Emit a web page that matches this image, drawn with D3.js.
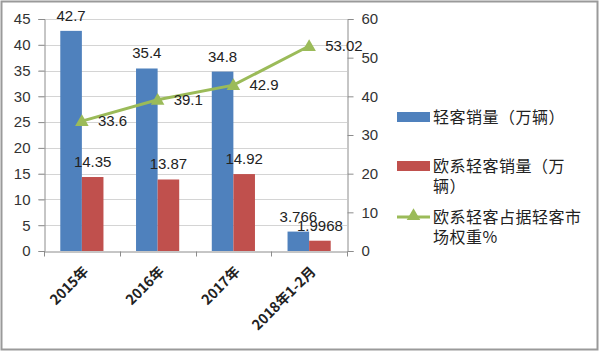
<!DOCTYPE html>
<html><head><meta charset="utf-8">
<script src="https://cdn.jsdelivr.net/npm/d3@7"></script>
<style>
html,body{margin:0;padding:0;background:#fff;}
svg{display:block;}
</style></head>
<body>
<svg id="chart" width="600" height="352"></svg>
<script>
const categories = ["2015年", "2016年", "2017年", "2018年1-2月"];
const totalSales = [42.7, 35.4, 34.8, 3.766];
const euroSales = [14.35, 13.87, 14.92, 1.9968];
const euroShare = [33.6, 39.1, 42.9, 53.02];
const totalLabels = ["42.7", "35.4", "34.8", "3.766"];
const euroLabels = ["14.35", "13.87", "14.92", "1.9968"];
const shareLabels = ["33.6", "39.1", "42.9", "53.02"];
const leftTicks = [0, 5, 10, 15, 20, 25, 30, 35, 40, 45];
const rightTicks = [0, 10, 20, 30, 40, 50, 60];
const seriesNames = ["轻客销量（万辆）", "欧系轻客销量（万辆）", "欧系轻客占据轻客市场权重%"];

const colors = {blue: "#4F81BD", red: "#C0504D", green: "#9BBB59"};
const svg = d3.select("#chart");
const W = 600, H = 352;
const plot = {left: 44, right: 347, top: 19, bottom: 251};
const numFont = "'Liberation Sans', Arial, sans-serif";
const cjkFont = "'Noto Sans CJK SC', sans-serif";

// border
svg.append("rect").attr("x", 1.5).attr("y", 1.5).attr("width", W - 4).attr("height", H - 4)
  .attr("fill", "#fff").attr("stroke", "#9a9a9a").attr("stroke-width", 2);

const x = d3.scaleBand().domain(categories).range([plot.left, plot.right]).paddingInner(0.43).paddingOuter(0.215);
const xs = d3.scaleBand().domain([0, 1]).range([0, x.bandwidth()]);
const xc = d => x(d) + x.bandwidth() / 2;
const yL = d3.scaleLinear().domain([0, 45]).range([plot.bottom, plot.top]);
const yR = d3.scaleLinear().domain([0, 60]).range([plot.bottom, plot.top]);

// gridlines
svg.append("g").selectAll("line").data(leftTicks.filter(t => t > 0)).join("line")
  .attr("x1", plot.left - 6).attr("x2", plot.right)
  .attr("y1", d => Math.round(yL(d)) + 0.5).attr("y2", d => Math.round(yL(d)) + 0.5)
  .attr("stroke", "#d4d4d4").attr("stroke-width", 1);

// left axis
const gL = svg.append("g").attr("transform", `translate(${plot.left + 0.5},0)`)
  .call(d3.axisLeft(yL).tickValues(leftTicks).tickSize(6).tickPadding(8));
// right axis
const gR = svg.append("g").attr("transform", `translate(${plot.right + 0.5},0)`)
  .call(d3.axisRight(yR).tickValues(rightTicks).tickSize(6).tickPadding(8));
[gL, gR].forEach(g => {
  g.select(".domain").attr("stroke", "#8c8c8c");
  g.selectAll(".tick line").attr("stroke", "#8c8c8c");
  g.selectAll(".tick text").attr("font-family", numFont).attr("font-size", 15).attr("fill", "#333");
});

// bars
const bars = svg.append("g");
bars.selectAll("rect.total").data(categories).join("rect").attr("class", "total")
  .attr("x", (d) => x(d) + xs(0)).attr("width", xs.bandwidth())
  .attr("y", (d, i) => yL(totalSales[i])).attr("height", (d, i) => yL(0) - yL(totalSales[i]))
  .attr("fill", colors.blue);
bars.selectAll("rect.euro").data(categories).join("rect").attr("class", "euro")
  .attr("x", (d) => x(d) + xs(1)).attr("width", xs.bandwidth())
  .attr("y", (d, i) => yL(euroSales[i])).attr("height", (d, i) => yL(0) - yL(euroSales[i]))
  .attr("fill", colors.red);

// x axis
const gX = svg.append("g").attr("transform", `translate(0,${plot.bottom + 0.5})`)
  .call(d3.axisBottom(x).tickSize(0).tickFormat(""));
gX.select(".domain").attr("stroke", "#8c8c8c");
const bounds = [plot.left, ...categories.map(d => x(d) - x.step() * x.paddingInner() / 2 + x.step()).slice(0, 3), plot.right];
gX.selectAll("line.sep").data(bounds).join("line").attr("class", "sep")
  .attr("x1", d => Math.round(d) + 0.5).attr("x2", d => Math.round(d) + 0.5)
  .attr("y1", 0).attr("y2", 5).attr("stroke", "#8c8c8c");
svg.append("g").selectAll("text").data(categories).join("text")
  .attr("transform", d => `translate(${xc(d) + 4},${plot.bottom + 18}) rotate(-45)`)
  .attr("text-anchor", "end").attr("dy", "0.35em")
  .attr("font-family", cjkFont).attr("font-size", 14).attr("font-weight", "bold").attr("fill", "#222")
  .text(d => d);

// line
const line = d3.line().x((d, i) => xc(categories[i])).y(d => yR(d));
svg.append("path").datum(euroShare).attr("d", line)
  .attr("fill", "none").attr("stroke", colors.green).attr("stroke-width", 3);
const tri = d3.symbol().type(d3.symbolTriangle).size(80);
svg.append("g").selectAll("path").data(euroShare).join("path")
  .attr("d", tri).attr("transform", (d, i) => `translate(${xc(categories[i])},${yR(d) + 1})`)
  .attr("fill", colors.green);

// data labels
const lab = svg.append("g").attr("font-family", numFont).attr("font-size", 15).attr("fill", "#222");
lab.selectAll("text.t").data(totalLabels).join("text").attr("class", "t")
  .attr("x", (d, i) => x(categories[i]) + xs(0) + xs.bandwidth() / 2)
  .attr("y", (d, i) => yL(totalSales[i]) - 10).attr("text-anchor", "middle").text(d => d);
lab.selectAll("text.e").data(euroLabels).join("text").attr("class", "e")
  .attr("x", (d, i) => x(categories[i]) + xs(1) + xs.bandwidth() / 2)
  .attr("y", (d, i) => yL(euroSales[i]) - 10).attr("text-anchor", "middle").text(d => d);
lab.selectAll("text.s").data(shareLabels).join("text").attr("class", "s")
  .attr("x", (d, i) => xc(categories[i]) + 16)
  .attr("y", (d, i) => yR(euroShare[i])).attr("dy", "0.35em").text(d => d);

// legend
const leg = svg.append("g");
const legY = [117, 166, 217];
const maxW = 152;
const noStart = "）)，。、%";
seriesNames.forEach((name, i) => {
  const y0 = legY[i];
  if (i < 2) {
    leg.append("rect").attr("x", 397).attr("y", y0 - 5).attr("width", 33).attr("height", 10)
      .attr("fill", i === 0 ? colors.blue : colors.red);
  } else {
    leg.append("line").attr("x1", 397).attr("x2", 430).attr("y1", y0).attr("y2", y0)
      .attr("stroke", colors.green).attr("stroke-width", 3);
    leg.append("path").attr("d", tri).attr("transform", `translate(413.5,${y0 - 1})`).attr("fill", colors.green);
  }
  const t = leg.append("text").attr("x", 433).attr("y", y0)
    .attr("font-family", cjkFont).attr("font-size", 16).attr("letter-spacing", 0.5).attr("fill", "#222");
  const chars = Array.from(name);
  let lineStr = "", lines = [];
  const probe = t.append("tspan");
  chars.forEach(c => {
    probe.text(lineStr + c);
    if (probe.node().getComputedTextLength() > maxW && lineStr) {
      if (noStart.includes(c) && lineStr.length > 1) {
        const last = lineStr.slice(-1);
        lines.push(lineStr.slice(0, -1)); lineStr = last + c;
      } else { lines.push(lineStr); lineStr = c; }
    } else lineStr += c;
  });
  lines.push(lineStr);
  probe.remove();
  lines.forEach((l, k) => {
    t.append("tspan").attr("x", 433).attr("dy", k === 0 ? "0.35em" : 20).text(l);
  });
});
</script>
</body></html>
